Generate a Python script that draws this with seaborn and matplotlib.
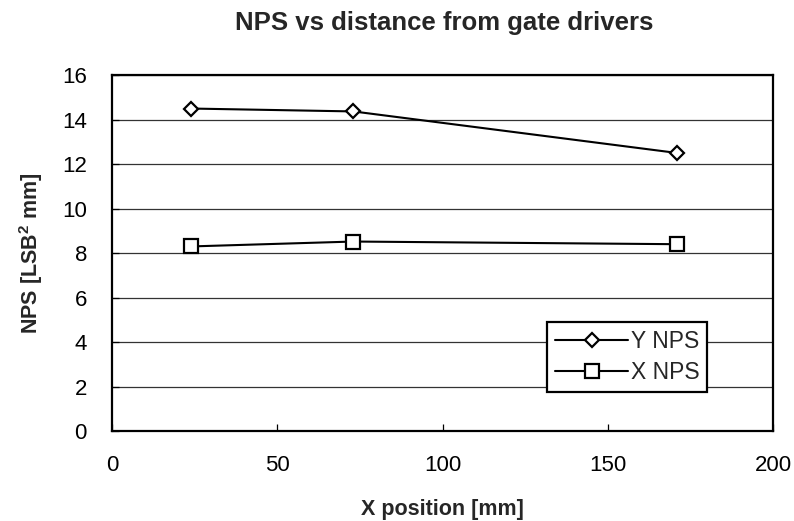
import numpy as np
import pandas as pd
import matplotlib
matplotlib.use('Agg')
import matplotlib.pyplot as plt
import seaborn as sns

# values
x_pos = [24, 73, 171]
y_nps = [14.5, 14.37, 12.5]
x_nps = [8.3, 8.52, 8.4]

sns.set_style('white')
plt.rcParams['font.family'] = ['Liberation Sans', 'DejaVu Sans']
plt.rcParams['mathtext.fontset'] = 'custom'
plt.rcParams['mathtext.rm'] = 'Liberation Sans'
plt.rcParams['mathtext.bf'] = 'Liberation Sans:bold'

dfY = pd.DataFrame({'pos': x_pos, 'nps': y_nps})
dfX = pd.DataFrame({'pos': x_pos, 'nps': x_nps})

fig = plt.figure(figsize=(7.94, 5.21), dpi=100)
ax = fig.add_axes([0.141, 0.1727, 0.833, 0.683])

sns.lineplot(data=dfY, x='pos', y='nps', color='black', linewidth=1.5,
             marker='D', markersize=7.5, markerfacecolor='white',
             markeredgecolor='black', markeredgewidth=1.6, label='Y NPS', ax=ax)
sns.lineplot(data=dfX, x='pos', y='nps', color='black', linewidth=1.5,
             marker='s', markersize=10.5, markerfacecolor='white',
             markeredgecolor='black', markeredgewidth=1.6, label='X NPS', ax=ax)

ax.set_xlim(0, 200)
ax.set_ylim(0, 16)
ax.set_xticks(np.arange(0, 201, 50))
ax.set_yticks(np.arange(0, 17, 2))
ax.yaxis.grid(True, color='#333333', linewidth=0.9)
ax.set_axisbelow(True)
for s in ax.spines.values():
    s.set_color('black')
    s.set_linewidth(1.6)
ax.tick_params(direction='in', length=5, width=0.9, labelsize=16, colors='black',
               left=True, bottom=True)
ax.tick_params(axis='x', pad=17)
ax.tick_params(axis='y', pad=18)

ax.set_xlabel('X position [mm]', fontsize=15.5, fontweight='bold', labelpad=17)
ax.set_ylabel(r'NPS [LSB$^\mathbf{2}$ mm]', fontsize=15.5, fontweight='bold', labelpad=12)
fig.suptitle('NPS vs distance from gate drivers', fontsize=18.5, fontweight='bold',
             x=0.56, y=0.978)

leg = ax.legend(loc='lower right', bbox_to_anchor=(0.900, 0.1096), frameon=True,
                fancybox=False, framealpha=1, edgecolor='black', fontsize=16.5,
                handlelength=3.2, handletextpad=0.1, borderpad=0.35, labelspacing=0.35,
                borderaxespad=0)
leg.get_frame().set_linewidth(1.6)

fig.savefig('out.png', dpi=100)
